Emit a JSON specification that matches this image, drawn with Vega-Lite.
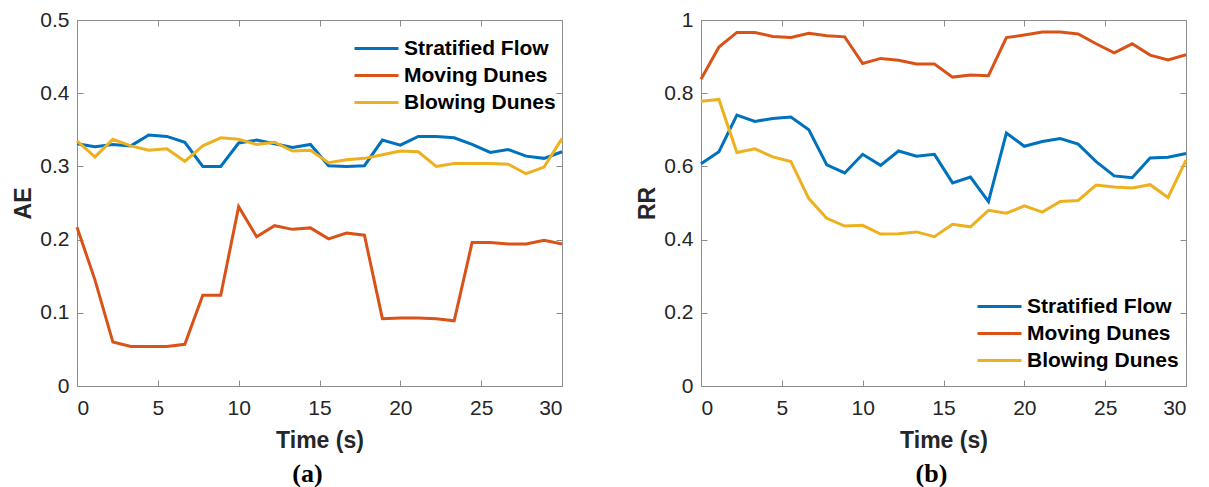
{
  "$schema": "https://vega.github.io/schema/vega-lite/v6.json",
  "background": "white",
  "padding": {"left": 12, "top": 8, "right": 5, "bottom": 0},
  "spacing": 67,
  "config": {
    "view": {"stroke": "#8c8c8c", "strokeWidth": 1},
    "axis": {
      "grid": false,
      "domainColor": "#8c8c8c",
      "tickColor": "#8c8c8c",
      "tickSize": -6,
      "labelFont": "Liberation Sans",
      "labelFontSize": 21,
      "labelColor": "#262626",
      "titleFont": "Liberation Sans",
      "titleFontSize": 23,
      "titleFontWeight": "bold",
      "titleColor": "#262626"
    },
    "legend": {
      "orient": "none",
      "title": null,
      "symbolType": "stroke",
      "symbolSize": 1936,
      "symbolStrokeWidth": 3,
      "clipHeight": 21,
      "rowPadding": 5,
      "labelFont": "Liberation Sans",
      "labelFontSize": 21,
      "labelFontWeight": "bold",
      "labelColor": "#000000"
    },
    "title": {"font": "Liberation Serif", "fontSize": 26, "fontWeight": "bold", "color": "#000000", "orient": "bottom", "offset": 9, "dx": -12}
  },
  "datasets": {
    "a": [
      {"t": 0, "s": "Stratified Flow", "v": 0.331}, {"t": 1.11, "s": "Stratified Flow", "v": 0.327}, {"t": 2.22, "s": "Stratified Flow", "v": 0.330}, {"t": 3.33, "s": "Stratified Flow", "v": 0.328}, {"t": 4.44, "s": "Stratified Flow", "v": 0.343}, {"t": 5.56, "s": "Stratified Flow", "v": 0.341}, {"t": 6.67, "s": "Stratified Flow", "v": 0.333}, {"t": 7.78, "s": "Stratified Flow", "v": 0.300}, {"t": 8.89, "s": "Stratified Flow", "v": 0.300}, {"t": 10, "s": "Stratified Flow", "v": 0.332}, {"t": 11.11, "s": "Stratified Flow", "v": 0.336}, {"t": 12.22, "s": "Stratified Flow", "v": 0.331}, {"t": 13.33, "s": "Stratified Flow", "v": 0.326}, {"t": 14.44, "s": "Stratified Flow", "v": 0.330}, {"t": 15.56, "s": "Stratified Flow", "v": 0.301}, {"t": 16.67, "s": "Stratified Flow", "v": 0.300}, {"t": 17.78, "s": "Stratified Flow", "v": 0.301}, {"t": 18.89, "s": "Stratified Flow", "v": 0.336}, {"t": 20, "s": "Stratified Flow", "v": 0.329}, {"t": 21.11, "s": "Stratified Flow", "v": 0.341}, {"t": 22.22, "s": "Stratified Flow", "v": 0.341}, {"t": 23.33, "s": "Stratified Flow", "v": 0.339}, {"t": 24.44, "s": "Stratified Flow", "v": 0.330}, {"t": 25.56, "s": "Stratified Flow", "v": 0.319}, {"t": 26.67, "s": "Stratified Flow", "v": 0.323}, {"t": 27.78, "s": "Stratified Flow", "v": 0.314}, {"t": 28.89, "s": "Stratified Flow", "v": 0.311}, {"t": 30, "s": "Stratified Flow", "v": 0.320},
      {"t": 0, "s": "Moving Dunes", "v": 0.217}, {"t": 1.11, "s": "Moving Dunes", "v": 0.145}, {"t": 2.22, "s": "Moving Dunes", "v": 0.060}, {"t": 3.33, "s": "Moving Dunes", "v": 0.054}, {"t": 4.44, "s": "Moving Dunes", "v": 0.054}, {"t": 5.56, "s": "Moving Dunes", "v": 0.054}, {"t": 6.67, "s": "Moving Dunes", "v": 0.057}, {"t": 7.78, "s": "Moving Dunes", "v": 0.124}, {"t": 8.89, "s": "Moving Dunes", "v": 0.124}, {"t": 10, "s": "Moving Dunes", "v": 0.245}, {"t": 11.11, "s": "Moving Dunes", "v": 0.204}, {"t": 12.22, "s": "Moving Dunes", "v": 0.219}, {"t": 13.33, "s": "Moving Dunes", "v": 0.214}, {"t": 14.44, "s": "Moving Dunes", "v": 0.216}, {"t": 15.56, "s": "Moving Dunes", "v": 0.201}, {"t": 16.67, "s": "Moving Dunes", "v": 0.209}, {"t": 17.78, "s": "Moving Dunes", "v": 0.206}, {"t": 18.89, "s": "Moving Dunes", "v": 0.092}, {"t": 20, "s": "Moving Dunes", "v": 0.093}, {"t": 21.11, "s": "Moving Dunes", "v": 0.093}, {"t": 22.22, "s": "Moving Dunes", "v": 0.092}, {"t": 23.33, "s": "Moving Dunes", "v": 0.089}, {"t": 24.44, "s": "Moving Dunes", "v": 0.196}, {"t": 25.56, "s": "Moving Dunes", "v": 0.196}, {"t": 26.67, "s": "Moving Dunes", "v": 0.194}, {"t": 27.78, "s": "Moving Dunes", "v": 0.194}, {"t": 28.89, "s": "Moving Dunes", "v": 0.199}, {"t": 30, "s": "Moving Dunes", "v": 0.194},
      {"t": 0, "s": "Blowing Dunes", "v": 0.335}, {"t": 1.11, "s": "Blowing Dunes", "v": 0.313}, {"t": 2.22, "s": "Blowing Dunes", "v": 0.337}, {"t": 3.33, "s": "Blowing Dunes", "v": 0.328}, {"t": 4.44, "s": "Blowing Dunes", "v": 0.322}, {"t": 5.56, "s": "Blowing Dunes", "v": 0.324}, {"t": 6.67, "s": "Blowing Dunes", "v": 0.307}, {"t": 7.78, "s": "Blowing Dunes", "v": 0.328}, {"t": 8.89, "s": "Blowing Dunes", "v": 0.339}, {"t": 10, "s": "Blowing Dunes", "v": 0.337}, {"t": 11.11, "s": "Blowing Dunes", "v": 0.330}, {"t": 12.22, "s": "Blowing Dunes", "v": 0.333}, {"t": 13.33, "s": "Blowing Dunes", "v": 0.321}, {"t": 14.44, "s": "Blowing Dunes", "v": 0.322}, {"t": 15.56, "s": "Blowing Dunes", "v": 0.305}, {"t": 16.67, "s": "Blowing Dunes", "v": 0.309}, {"t": 17.78, "s": "Blowing Dunes", "v": 0.311}, {"t": 18.89, "s": "Blowing Dunes", "v": 0.316}, {"t": 20, "s": "Blowing Dunes", "v": 0.321}, {"t": 21.11, "s": "Blowing Dunes", "v": 0.320}, {"t": 22.22, "s": "Blowing Dunes", "v": 0.300}, {"t": 23.33, "s": "Blowing Dunes", "v": 0.304}, {"t": 24.44, "s": "Blowing Dunes", "v": 0.304}, {"t": 25.56, "s": "Blowing Dunes", "v": 0.304}, {"t": 26.67, "s": "Blowing Dunes", "v": 0.303}, {"t": 27.78, "s": "Blowing Dunes", "v": 0.290}, {"t": 28.89, "s": "Blowing Dunes", "v": 0.299}, {"t": 30, "s": "Blowing Dunes", "v": 0.338}
    ],
    "b": [
      {"t": 0, "s": "Stratified Flow", "v": 0.607}, {"t": 1.11, "s": "Stratified Flow", "v": 0.640}, {"t": 2.22, "s": "Stratified Flow", "v": 0.740}, {"t": 3.33, "s": "Stratified Flow", "v": 0.723}, {"t": 4.44, "s": "Stratified Flow", "v": 0.731}, {"t": 5.56, "s": "Stratified Flow", "v": 0.735}, {"t": 6.67, "s": "Stratified Flow", "v": 0.700}, {"t": 7.78, "s": "Stratified Flow", "v": 0.604}, {"t": 8.89, "s": "Stratified Flow", "v": 0.582}, {"t": 10, "s": "Stratified Flow", "v": 0.633}, {"t": 11.11, "s": "Stratified Flow", "v": 0.603}, {"t": 12.22, "s": "Stratified Flow", "v": 0.642}, {"t": 13.33, "s": "Stratified Flow", "v": 0.628}, {"t": 14.44, "s": "Stratified Flow", "v": 0.633}, {"t": 15.56, "s": "Stratified Flow", "v": 0.555}, {"t": 16.67, "s": "Stratified Flow", "v": 0.571}, {"t": 17.78, "s": "Stratified Flow", "v": 0.504}, {"t": 18.89, "s": "Stratified Flow", "v": 0.691}, {"t": 20, "s": "Stratified Flow", "v": 0.655}, {"t": 21.11, "s": "Stratified Flow", "v": 0.668}, {"t": 22.22, "s": "Stratified Flow", "v": 0.676}, {"t": 23.33, "s": "Stratified Flow", "v": 0.661}, {"t": 24.44, "s": "Stratified Flow", "v": 0.613}, {"t": 25.56, "s": "Stratified Flow", "v": 0.574}, {"t": 26.67, "s": "Stratified Flow", "v": 0.569}, {"t": 27.78, "s": "Stratified Flow", "v": 0.623}, {"t": 28.89, "s": "Stratified Flow", "v": 0.625}, {"t": 30, "s": "Stratified Flow", "v": 0.635},
      {"t": 0, "s": "Moving Dunes", "v": 0.838}, {"t": 1.11, "s": "Moving Dunes", "v": 0.926}, {"t": 2.22, "s": "Moving Dunes", "v": 0.966}, {"t": 3.33, "s": "Moving Dunes", "v": 0.966}, {"t": 4.44, "s": "Moving Dunes", "v": 0.955}, {"t": 5.56, "s": "Moving Dunes", "v": 0.952}, {"t": 6.67, "s": "Moving Dunes", "v": 0.964}, {"t": 7.78, "s": "Moving Dunes", "v": 0.957}, {"t": 8.89, "s": "Moving Dunes", "v": 0.954}, {"t": 10, "s": "Moving Dunes", "v": 0.881}, {"t": 11.11, "s": "Moving Dunes", "v": 0.895}, {"t": 12.22, "s": "Moving Dunes", "v": 0.890}, {"t": 13.33, "s": "Moving Dunes", "v": 0.880}, {"t": 14.44, "s": "Moving Dunes", "v": 0.880}, {"t": 15.56, "s": "Moving Dunes", "v": 0.844}, {"t": 16.67, "s": "Moving Dunes", "v": 0.850}, {"t": 17.78, "s": "Moving Dunes", "v": 0.848}, {"t": 18.89, "s": "Moving Dunes", "v": 0.952}, {"t": 20, "s": "Moving Dunes", "v": 0.959}, {"t": 21.11, "s": "Moving Dunes", "v": 0.967}, {"t": 22.22, "s": "Moving Dunes", "v": 0.967}, {"t": 23.33, "s": "Moving Dunes", "v": 0.962}, {"t": 24.44, "s": "Moving Dunes", "v": 0.935}, {"t": 25.56, "s": "Moving Dunes", "v": 0.910}, {"t": 26.67, "s": "Moving Dunes", "v": 0.935}, {"t": 27.78, "s": "Moving Dunes", "v": 0.904}, {"t": 28.89, "s": "Moving Dunes", "v": 0.891}, {"t": 30, "s": "Moving Dunes", "v": 0.905},
      {"t": 0, "s": "Blowing Dunes", "v": 0.778}, {"t": 1.11, "s": "Blowing Dunes", "v": 0.783}, {"t": 2.22, "s": "Blowing Dunes", "v": 0.638}, {"t": 3.33, "s": "Blowing Dunes", "v": 0.648}, {"t": 4.44, "s": "Blowing Dunes", "v": 0.626}, {"t": 5.56, "s": "Blowing Dunes", "v": 0.613}, {"t": 6.67, "s": "Blowing Dunes", "v": 0.512}, {"t": 7.78, "s": "Blowing Dunes", "v": 0.458}, {"t": 8.89, "s": "Blowing Dunes", "v": 0.437}, {"t": 10, "s": "Blowing Dunes", "v": 0.439}, {"t": 11.11, "s": "Blowing Dunes", "v": 0.415}, {"t": 12.22, "s": "Blowing Dunes", "v": 0.416}, {"t": 13.33, "s": "Blowing Dunes", "v": 0.421}, {"t": 14.44, "s": "Blowing Dunes", "v": 0.408}, {"t": 15.56, "s": "Blowing Dunes", "v": 0.442}, {"t": 16.67, "s": "Blowing Dunes", "v": 0.435}, {"t": 17.78, "s": "Blowing Dunes", "v": 0.480}, {"t": 18.89, "s": "Blowing Dunes", "v": 0.472}, {"t": 20, "s": "Blowing Dunes", "v": 0.492}, {"t": 21.11, "s": "Blowing Dunes", "v": 0.475}, {"t": 22.22, "s": "Blowing Dunes", "v": 0.504}, {"t": 23.33, "s": "Blowing Dunes", "v": 0.507}, {"t": 24.44, "s": "Blowing Dunes", "v": 0.549}, {"t": 25.56, "s": "Blowing Dunes", "v": 0.544}, {"t": 26.67, "s": "Blowing Dunes", "v": 0.541}, {"t": 27.78, "s": "Blowing Dunes", "v": 0.550}, {"t": 28.89, "s": "Blowing Dunes", "v": 0.515}, {"t": 30, "s": "Blowing Dunes", "v": 0.617}
    ]
  },
  "hconcat": [
    {
      "width": 485,
      "height": 366,
      "title": {"text": "(a)"},
      "data": {"name": "a"},
      "layer": [
        {
          "mark": {"type": "line", "strokeWidth": 3},
          "encoding": {
            "x": {"field": "t", "type": "quantitative", "scale": {"domain": [0, 30], "nice": false, "zero": false}, "axis": {"title": "Time (s)", "values": [0, 5, 10, 15, 20, 25, 30], "labelPadding": 17, "titlePadding": 11}},
            "y": {"field": "v", "type": "quantitative", "scale": {"domain": [0, 0.5], "nice": false}, "axis": {"title": "AE", "values": [0, 0.1, 0.2, 0.3, 0.4, 0.5], "format": "~g", "labelPadding": 14, "titlePadding": 4}},
            "color": {"field": "s", "type": "nominal", "scale": {"domain": ["Stratified Flow", "Moving Dunes", "Blowing Dunes"], "range": ["#0072BD", "#D95319", "#EDB120"]}, "legend": {"legendX": 276, "legendY": 18}},
            "order": {"field": "t", "type": "quantitative"}
          }
        },
        {
          "mark": {"type": "line", "opacity": 0},
          "encoding": {
            "x": {"field": "t", "type": "quantitative", "scale": {"domain": [0, 30], "nice": false, "zero": false}, "axis": {"orient": "top", "title": null, "labels": false, "domain": false, "values": [0, 5, 10, 15, 20, 25, 30]}},
            "y": {"field": "v", "type": "quantitative", "scale": {"domain": [0, 0.5], "nice": false}, "axis": {"orient": "right", "title": null, "labels": false, "domain": false, "values": [0, 0.1, 0.2, 0.3, 0.4, 0.5]}}
          }
        }
      ],
      "resolve": {"axis": {"x": "independent", "y": "independent"}}
    },
    {
      "width": 485,
      "height": 366,
      "title": {"text": "(b)"},
      "data": {"name": "b"},
      "layer": [
        {
          "mark": {"type": "line", "strokeWidth": 3},
          "encoding": {
            "x": {"field": "t", "type": "quantitative", "scale": {"domain": [0, 30], "nice": false, "zero": false}, "axis": {"title": "Time (s)", "values": [0, 5, 10, 15, 20, 25, 30], "labelPadding": 17, "titlePadding": 11}},
            "y": {"field": "v", "type": "quantitative", "scale": {"domain": [0, 1], "nice": false}, "axis": {"title": "RR", "values": [0, 0.2, 0.4, 0.6, 0.8, 1], "format": "~g", "labelPadding": 14, "titlePadding": 4}},
            "color": {"field": "s", "type": "nominal", "scale": {"domain": ["Stratified Flow", "Moving Dunes", "Blowing Dunes"], "range": ["#0072BD", "#D95319", "#EDB120"]}, "legend": {"legendX": 275, "legendY": 276}},
            "order": {"field": "t", "type": "quantitative"}
          }
        },
        {
          "mark": {"type": "line", "opacity": 0},
          "encoding": {
            "x": {"field": "t", "type": "quantitative", "scale": {"domain": [0, 30], "nice": false, "zero": false}, "axis": {"orient": "top", "title": null, "labels": false, "domain": false, "values": [0, 5, 10, 15, 20, 25, 30]}},
            "y": {"field": "v", "type": "quantitative", "scale": {"domain": [0, 1], "nice": false}, "axis": {"orient": "right", "title": null, "labels": false, "domain": false, "values": [0, 0.2, 0.4, 0.6, 0.8, 1]}}
          }
        }
      ],
      "resolve": {"axis": {"x": "independent", "y": "independent"}}
    }
  ],
  "resolve": {"legend": {"color": "independent"}}
}
